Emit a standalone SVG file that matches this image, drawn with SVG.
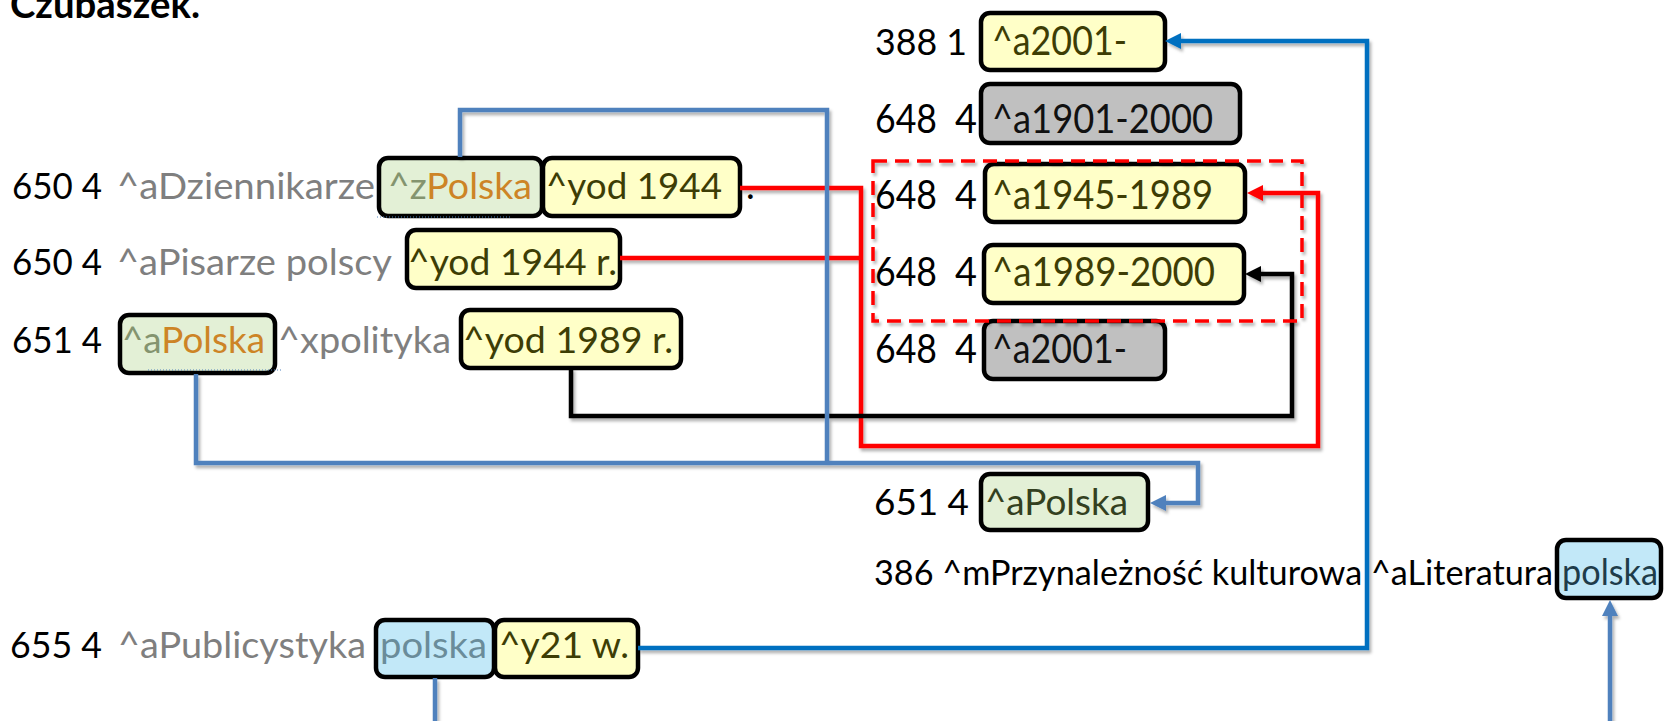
<svg xmlns="http://www.w3.org/2000/svg" width="1665" height="721" viewBox="0 0 1665 721">
<style>
text{font-family:Lato,"Open Sans","Liberation Sans",sans-serif;}
.k{fill:#000}
.g{fill:#7f7f7f}
.yt{fill:#3d3d05}
.gz{fill:#84946f}
.or{fill:#cd8426}
.box{stroke:#000;stroke-width:4.5}
.y{fill:#ffffc8}
.gr{fill:#e3f0d6}
.gy{fill:#c0c0c0}
.bl{fill:#c2e8f8}
.c{fill:none;stroke-width:4.5;stroke-linejoin:miter}
</style>
<defs>
<filter id="sh" filterUnits="userSpaceOnUse" x="0" y="0" width="1665" height="721">
<feDropShadow dx="2" dy="3" stdDeviation="1.5" flood-color="#000" flood-opacity="0.3"/>
</filter>
<marker id="aB" markerUnits="userSpaceOnUse" markerWidth="16" markerHeight="16" viewBox="0 0 16 16" refX="10" refY="8" orient="auto"><path d="M0,0 L16,8 L0,16 z" fill="#0070c0"/></marker>
<marker id="aS" markerUnits="userSpaceOnUse" markerWidth="16" markerHeight="16" viewBox="0 0 16 16" refX="10" refY="8" orient="auto"><path d="M0,0 L16,8 L0,16 z" fill="#4f81bd"/></marker>
<marker id="aR" markerUnits="userSpaceOnUse" markerWidth="16" markerHeight="16" viewBox="0 0 16 16" refX="10" refY="8" orient="auto"><path d="M0,0 L16,8 L0,16 z" fill="#ff0000"/></marker>
<marker id="aK" markerUnits="userSpaceOnUse" markerWidth="16" markerHeight="16" viewBox="0 0 16 16" refX="10" refY="8" orient="auto"><path d="M0,0 L16,8 L0,16 z" fill="#000"/></marker>
</defs>
<rect width="1665" height="721" fill="#fff"/>
<text x="10" y="18" font-weight="bold" font-size="38" textLength="190" lengthAdjust="spacingAndGlyphs" class="k">Czubaszek.</text>

<g id="row650a">
<text x="12" y="199" font-size="37" class="k" textLength="90" lengthAdjust="spacingAndGlyphs">650 4</text>
<text x="117" y="199" font-size="37" class="g" textLength="258" lengthAdjust="spacingAndGlyphs">^aDziennikarze</text>
<rect class="box gr" x="379" y="158" width="163" height="58" rx="9"/>
<text x="388" y="199" font-size="37" textLength="144" lengthAdjust="spacingAndGlyphs"><tspan class="gz">^z</tspan><tspan class="or">Polska</tspan></text>
<rect class="box y" x="543" y="158" width="197" height="58" rx="9"/>
<text x="546" y="199" font-size="37" class="yt" textLength="176" lengthAdjust="spacingAndGlyphs">^yod 1944</text>
<text x="746" y="199" font-size="37" class="k">.</text>
<line x1="377" y1="217" x2="510" y2="217" stroke="#4f81bd" stroke-width="1" stroke-dasharray="1 2"/>
</g>

<g id="row650b">
<text x="12" y="275" font-size="37" class="k" textLength="90" lengthAdjust="spacingAndGlyphs">650 4</text>
<text x="117" y="275" font-size="37" class="g" textLength="275" lengthAdjust="spacingAndGlyphs">^aPisarze polscy</text>
<rect class="box y" x="407" y="230" width="213" height="58" rx="9"/>
<text x="408" y="275" font-size="37" class="yt" textLength="209" lengthAdjust="spacingAndGlyphs">^yod 1944 r.</text>
</g>

<g id="row651">
<text x="12" y="353" font-size="37" class="k" textLength="90" lengthAdjust="spacingAndGlyphs">651 4</text>
<rect class="box gr" x="120" y="315" width="155" height="58" rx="9"/>
<text x="122" y="353" font-size="37" textLength="143" lengthAdjust="spacingAndGlyphs"><tspan class="gz">^a</tspan><tspan class="or">Polska</tspan></text>
<text x="278" y="353" font-size="37" class="g" textLength="173" lengthAdjust="spacingAndGlyphs">^xpolityka</text>
<rect class="box y" x="461" y="310" width="220" height="58" rx="9"/>
<text x="463" y="353" font-size="37" class="yt" textLength="210" lengthAdjust="spacingAndGlyphs">^yod 1989 r.</text>
<line x1="148" y1="370" x2="283" y2="370" stroke="#4f81bd" stroke-width="1" stroke-dasharray="1 2"/>
</g>

<g id="row655">
<text x="10" y="658" font-size="37" class="k" textLength="92" lengthAdjust="spacingAndGlyphs">655 4</text>
<text x="118" y="658" font-size="37" class="g" textLength="248" lengthAdjust="spacingAndGlyphs">^aPublicystyka</text>
<rect class="box bl" x="376" y="620" width="118" height="57" rx="9"/>
<text x="380" y="658" font-size="37" fill="#6a8c9a" textLength="107" lengthAdjust="spacingAndGlyphs">polska</text>
<rect class="box y" x="495" y="620" width="143" height="57" rx="9"/>
<text x="499" y="658" font-size="37" class="yt" textLength="130" lengthAdjust="spacingAndGlyphs">^y21 w.</text>
</g>

<g id="r388">
<text x="875" y="55" font-size="36" class="k" textLength="92" lengthAdjust="spacingAndGlyphs">388 1</text>
<rect class="box y" x="981" y="13" width="184" height="57" rx="9"/>
<text x="992" y="55" font-size="40" class="yt" textLength="135" lengthAdjust="spacingAndGlyphs">^a2001-</text>
</g>

<g id="r648a">
<text x="875" y="133" font-size="41" class="k" textLength="62" lengthAdjust="spacingAndGlyphs">648</text>
<text x="955" y="133" font-size="41" class="k" textLength="22" lengthAdjust="spacingAndGlyphs">4</text>
<rect class="box gy" x="981" y="84" width="259" height="59" rx="9"/>
<text x="992" y="133" font-size="41" fill="#111" textLength="221" lengthAdjust="spacingAndGlyphs">^a1901-2000</text>
</g>

<g id="r648b">
<text x="875" y="209" font-size="41" class="k" textLength="62" lengthAdjust="spacingAndGlyphs">648</text>
<text x="955" y="209" font-size="41" class="k" textLength="22" lengthAdjust="spacingAndGlyphs">4</text>
<rect class="box y" x="985" y="164" width="260" height="58" rx="9"/>
<text x="992" y="209" font-size="41" class="yt" textLength="221" lengthAdjust="spacingAndGlyphs">^a1945-1989</text>
</g>

<g id="r648c">
<text x="875" y="286" font-size="41" class="k" textLength="62" lengthAdjust="spacingAndGlyphs">648</text>
<text x="955" y="286" font-size="41" class="k" textLength="22" lengthAdjust="spacingAndGlyphs">4</text>
<rect class="box y" x="984" y="245" width="260" height="58" rx="9"/>
<text x="992" y="286" font-size="41" class="yt" textLength="223" lengthAdjust="spacingAndGlyphs">^a1989-2000</text>
</g>

<g id="r648d">
<text x="875" y="363" font-size="41" class="k" textLength="62" lengthAdjust="spacingAndGlyphs">648</text>
<text x="955" y="363" font-size="41" class="k" textLength="22" lengthAdjust="spacingAndGlyphs">4</text>
<rect class="box gy" x="984" y="321" width="181" height="58" rx="9"/>
<text x="992" y="363" font-size="41" fill="#111" textLength="135" lengthAdjust="spacingAndGlyphs">^a2001-</text>
</g>

<g id="r651">
<text x="874" y="515" font-size="37" class="k" textLength="95" lengthAdjust="spacingAndGlyphs">651 4</text>
<rect class="box gr" x="981" y="474" width="167" height="56" rx="9"/>
<text x="985" y="515" font-size="37" fill="#334020" textLength="143" lengthAdjust="spacingAndGlyphs">^aPolska</text>
</g>

<g id="r386">
<text x="874" y="585" font-size="34" class="k" textLength="679" lengthAdjust="spacingAndGlyphs">386 ^mPrzynależność kulturowa ^aLiteratura</text>
<rect class="box bl" x="1557" y="540" width="104" height="58" rx="9"/>
<text x="1562" y="585" font-size="37" fill="#1e3c4a" textLength="96" lengthAdjust="spacingAndGlyphs">polska</text>
</g>

<g id="connectors" filter="url(#sh)">
<path class="c" stroke="#ff0000" d="M740,188 H861 V446 H1318 V193 H1253" marker-end="url(#aR)"/>
<path class="c" stroke="#ff0000" d="M620,258 H861"/>
<path class="c" stroke="#000" d="M571,368 V416 H1292 V274 H1251" marker-end="url(#aK)"/>
<path class="c" stroke="#4f81bd" d="M460,157 V110 H827 V463"/>
<path class="c" stroke="#4f81bd" d="M196,374 V463 H1198 V503 H1156" marker-end="url(#aS)"/>
<path class="c" stroke="#4f81bd" d="M435,678 V721"/>
<path class="c" stroke="#4f81bd" d="M1610,721 V606" marker-end="url(#aS)"/>
<path class="c" stroke="#0070c0" d="M638,648 H1367 V41 H1171" marker-end="url(#aB)"/>
</g>

<g id="range">
<rect x="873" y="161" width="429" height="160" fill="none" stroke="#ff0000" stroke-width="3.5" stroke-dasharray="14 8" filter="url(#sh)"/>
</g>
</svg>
